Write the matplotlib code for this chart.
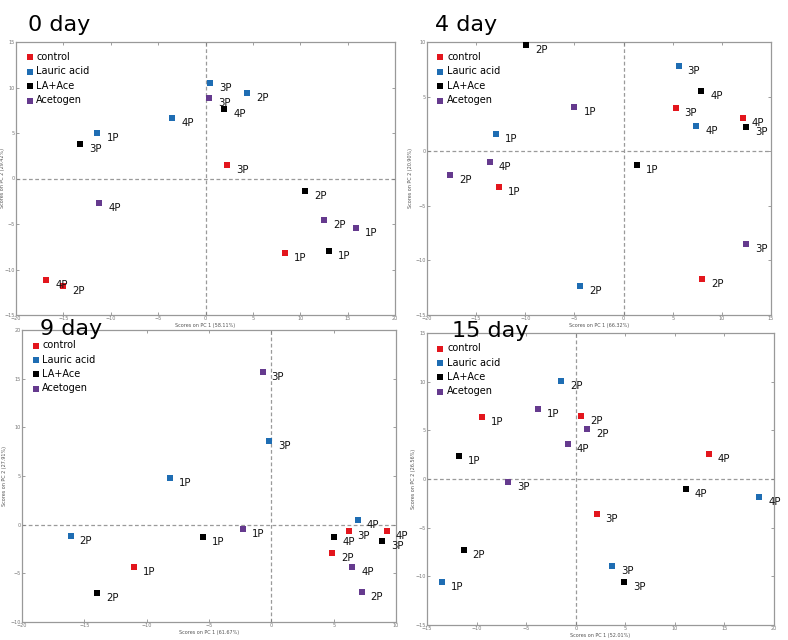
import matplotlib
matplotlib.use("Agg")
import matplotlib.pyplot as plt

groups = ["control", "Lauric acid", "LA+Ace", "Acetogen"]
colors = ["#e3161d", "#1e6db3", "#000000", "#653a8e"]

# ---- 0 day ----
d0_labels = [["3P", "1P", "4P", "2P"], ["3P", "2P", "4P", "1P"],
             ["4P", "3P", "2P", "1P"], ["3P", "4P", "2P", "1P"]]
d0_x = [[2.3, 8.4, -16.8, -15.0], [0.5, 4.4, -3.5, -11.4],
        [2.0, -13.2, 10.5, 13.0], [0.4, -11.2, 12.5, 15.9]]
d0_y = [[1.5, -8.2, -11.2, -11.8], [10.5, 9.4, 6.6, 5.0],
        [7.6, 3.8, -1.4, -8.0], [8.9, -2.7, -4.6, -5.4]]

# ---- 4 day ----
d4_labels = [["3P", "4P", "1P", "2P"], ["3P", "4P", "1P", "2P"],
             ["2P", "4P", "3P", "1P"], ["1P", "4P", "2P", "3P"]]
d4_x = [[5.3, 12.15, -12.7, 8.0], [5.6, 7.4, -13.0, -4.4],
        [-9.9, 7.9, 12.5, 1.4], [-5.0, -13.6, -17.65, 12.5]]
d4_y = [[4.0, 3.05, -3.25, -11.7], [7.8, 2.3, 1.6, -12.3],
        [9.75, 5.5, 2.2, -1.3], [4.05, -0.95, -2.2, -8.5]]

# ---- 9 day ----
d9_labels = [["1P", "3P", "2P", "4P"], ["3P", "1P", "2P", "4P"],
             ["1P", "2P", "4P", "3P"], ["3P", "1P", "4P", "2P"]]
d9_x = [[-11.0, 6.2, 4.9, 9.25], [-0.2, -8.1, -16.1, 6.95],
        [-5.45, -14.0, 5.0, 8.9], [-0.7, -2.3, 6.5, 7.25]]
d9_y = [[-4.3, -0.7, -2.9, -0.6], [8.6, 4.8, -1.2, 0.5],
        [-1.3, -7.0, -1.3, -1.7], [15.7, -0.4, -4.4, -6.9]]

# ---- 15 day ----
d15_labels = [["1P", "2P", "4P", "3P"], ["2P", "4P", "3P", "1P"],
              ["1P", "4P", "2P", "3P"], ["1P", "2P", "4P", "3P"]]
d15_x = [[-9.45, 0.57, 13.4, 2.1], [-1.5, 18.5, 3.7, -13.5],
         [-11.8, 11.1, -11.3, 4.85], [-3.85, 1.15, -0.8, -6.8]]
d15_y = [[6.4, 6.5, 2.6, -3.55], [10.1, -1.9, -8.9, -10.55],
         [2.35, -1.0, -7.3, -10.6], [7.15, 5.1, 3.55, -0.3]]

panels = [
    dict(title="0 day", xs=d0_x, ys=d0_y, labs=d0_labels, xlim=(-20, 20), ylim=(-15, 15),
         xlabel="Scores on PC 1 (58.11%)", ylabel="Scores on PC 2 (29.42%)",
         rect=(16, 42, 395, 315), tpos=(28, 25), ylx=-0.030),
    dict(title="4 day", xs=d4_x, ys=d4_y, labs=d4_labels, xlim=(-20, 15), ylim=(-15, 10),
         xlabel="Scores on PC 1 (66.32%)", ylabel="Scores on PC 2 (20.90%)",
         rect=(427, 42, 771, 315), tpos=(435, 25), ylx=-0.040),
    dict(title="9 day", xs=d9_x, ys=d9_y, labs=d9_labels, xlim=(-20, 10), ylim=(-10, 20),
         xlabel="Scores on PC 1 (61.67%)", ylabel="Scores on PC 2 (27.91%)",
         rect=(22, 330, 396, 622), tpos=(40, 329), ylx=-0.040),
    dict(title="15 day", xs=d15_x, ys=d15_y, labs=d15_labels, xlim=(-15, 20), ylim=(-15, 15),
         xlabel="Scores on PC 1 (52.01%)", ylabel="Scores on PC 2 (26.56%)",
         rect=(427, 333, 774, 625), tpos=(452, 331), ylx=-0.032),
]

W, H = 788, 640
fig = plt.figure(figsize=(W / 100, H / 100), dpi=100)
fig.patch.set_facecolor("white")

for p in panels:
    l, t, r, b = p["rect"]
    ax = fig.add_axes([l / W, 1 - b / H, (r - l) / W, (b - t) / H])
    ax.set_xlim(*p["xlim"])
    ax.set_ylim(*p["ylim"])
    ax.axvline(0, color="#9a9a9a", ls=(0, (3, 2)), lw=0.9, zorder=1)
    ax.axhline(0, color="#9a9a9a", ls=(0, (3, 2)), lw=0.9, zorder=1)
    for gi, g in enumerate(groups):
        ax.scatter(p["xs"][gi], p["ys"][gi], marker="s", s=16, color=colors[gi],
                   label=g, zorder=3, linewidths=0)
        for x, y, lab in zip(p["xs"][gi], p["ys"][gi], p["labs"][gi]):
            ax.annotate(lab, (x, y), xytext=(9, -5), textcoords="offset pixels",
                        ha="left", va="center", fontsize=7.3, color="#111111",
                        annotation_clip=False, zorder=4)
    lo, hi = p["xlim"]
    ax.set_xticks(range(lo, hi + 1, 5))
    lo, hi = p["ylim"]
    ax.set_yticks(range(lo, hi + 1, 5))
    ax.tick_params(direction="in", length=2, width=0.5, labelsize=3.5,
                   colors="#777777", top=True, right=True, pad=1)
    for s in ax.spines.values():
        s.set_color("#999999")
        s.set_linewidth(0.9)
    ax.set_xlabel(p["xlabel"], fontsize=3.5, color="#555555", labelpad=1)
    ax.set_ylabel(p["ylabel"], fontsize=3.5, color="#555555")
    ax.yaxis.set_label_coords(p["ylx"], 0.5)
    ax.legend(loc="upper left", bbox_to_anchor=(0.005, 0.985), frameon=False,
              fontsize=7, handletextpad=0.1, labelspacing=0.45,
              borderaxespad=0.2, scatterpoints=1, handlelength=1.2)
    fig.text(p["tpos"][0] / W, 1 - p["tpos"][1] / H, p["title"], fontsize=16,
             ha="left", va="center", color="black", zorder=10)

fig.savefig("out.png", dpi=100)
